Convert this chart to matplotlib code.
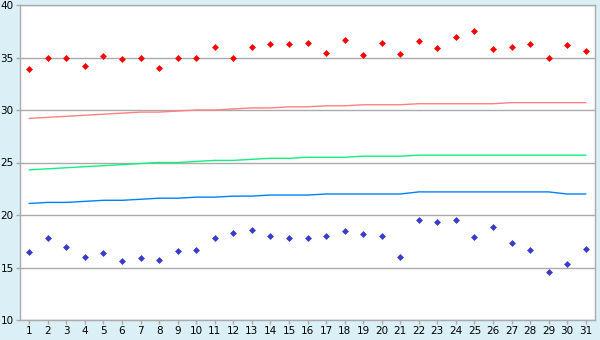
import matplotlib.pyplot as plt

days = list(range(1, 32))

# daily max / min (points)
max_temp = [33.9, 35.0, 35.0, 34.2, 35.1, 34.9, 35.0, 34.0, 35.0, 35.0,
            36.0, 35.0, 36.0, 36.3, 36.3, 36.4, 35.4, 36.7, 35.2, 36.4,
            35.3, 36.6, 35.9, 37.0, 37.5, 35.8, 36.0, 36.3, 35.0, 36.2, 35.6]
min_temp = [16.5, 17.8, 17.0, 16.0, 16.4, 15.6, 15.9, 15.7, 16.6, 16.7,
            17.8, 18.3, 18.6, 18.0, 17.8, 17.8, 18.0, 18.5, 18.2, 18.0,
            16.0, 19.5, 19.3, 19.5, 17.9, 18.9, 17.3, 16.7, 14.6, 15.3, 16.8]

# normals (lines)
normal_max = [29.2, 29.3, 29.4, 29.5, 29.6, 29.7, 29.8, 29.8, 29.9, 30.0,
              30.0, 30.1, 30.2, 30.2, 30.3, 30.3, 30.4, 30.4, 30.5, 30.5,
              30.5, 30.6, 30.6, 30.6, 30.6, 30.6, 30.7, 30.7, 30.7, 30.7, 30.7]
normal_mean = [24.3, 24.4, 24.5, 24.6, 24.7, 24.8, 24.9, 25.0, 25.0, 25.1,
               25.2, 25.2, 25.3, 25.4, 25.4, 25.5, 25.5, 25.5, 25.6, 25.6,
               25.6, 25.7, 25.7, 25.7, 25.7, 25.7, 25.7, 25.7, 25.7, 25.7, 25.7]
normal_min = [21.1, 21.2, 21.2, 21.3, 21.4, 21.4, 21.5, 21.6, 21.6, 21.7,
              21.7, 21.8, 21.8, 21.9, 21.9, 21.9, 22.0, 22.0, 22.0, 22.0,
              22.0, 22.2, 22.2, 22.2, 22.2, 22.2, 22.2, 22.2, 22.2, 22.0, 22.0]

yticks = [10, 15, 20, 25, 30, 35, 40]

fig = plt.figure(figsize=(6, 3.4), dpi=100)
fig.patch.set_facecolor('#daeff6')
ax = fig.add_axes([20 / 600, 20 / 340, 575 / 600, 315 / 340])
ax.set_facecolor('white')

grid_col = '#aaaaaa'
for y in yticks:
    ax.axhline(y, color=grid_col, lw=1, zorder=1)

ax.plot(days, normal_max, color='#ff8080', lw=1, zorder=2)
ax.plot(days, normal_mean, color='#10f080', lw=1, zorder=2)
ax.plot(days, normal_min, color='#0080ff', lw=1, zorder=2)

ax.plot(days, max_temp, ls='none', marker='D', ms=3.0, color='#ff0000',
        mec='#ff0000', mew=0.5, zorder=3)
ax.plot(days, min_temp, ls='none', marker='D', ms=3.0, color='#3a3acc',
        mec='#3a3acc', mew=0.5, zorder=3)

ax.set_xlim(0.5, 31.5)
ax.set_ylim(10, 40)
ax.set_xticks(days)
ax.set_xticklabels([str(d) for d in days])
ax.set_yticks(yticks)

for s in ax.spines.values():
    s.set_color(grid_col)
    s.set_linewidth(1)

ax.tick_params(axis='both', colors=grid_col, labelcolor='black',
               labelsize=7.5, length=3, width=1, pad=1.5)

plt.savefig('out.png', dpi=100, facecolor=fig.get_facecolor())
